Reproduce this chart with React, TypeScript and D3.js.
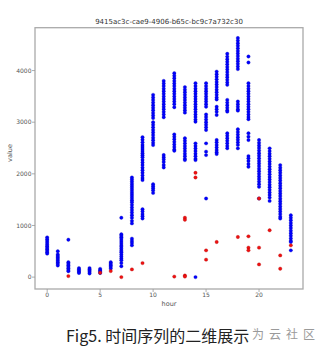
import React from "react";
import * as d3 from "d3";

const title = "9415ac3c-cae9-4906-b65c-bc9c7a732c30";
const xTicks = [0, 5, 10, 15, 20];
const yTicks = [0, 1000, 2000, 3000, 4000];

// blue series: values per hour (index = hour)
const blueValues: number[][] = [
  [770, 735, 700, 665, 630, 600, 570, 540, 510, 480, 455],
  [500, 440, 410, 380, 350, 320, 290, 260, 225],
  [725, 290, 260, 230, 200, 170, 140, 115],
  [175, 150, 125, 100, 80],
  [175, 150, 125, 100, 70],
  [160, 135, 110, 80],
  [290, 260, 230, 200, 165],
  [1150, 830, 800, 770, 740, 700, 660, 620, 590, 550, 510, 480, 440, 400, 360, 325, 272, 210],
  [1930, 1890, 1850, 1810, 1770, 1730, 1690, 1650, 1610, 1570, 1530, 1490, 1450, 1400, 1350, 1300, 1250, 1200, 1150, 1090, 1040, 745, 700, 660, 615],
  [2710, 2660, 2610, 2560, 2520, 2480, 2440, 2400, 2360, 2320, 2270, 2220, 2170, 2120, 2070, 2020, 1970, 1920, 1880, 1315, 1270, 1220, 1180, 1135],
  [3530, 3480, 3430, 3380, 3330, 3280, 3230, 3180, 3130, 3080, 3000, 2950, 2900, 2850, 2800, 2750, 2700, 2650, 2600, 2557, 1800, 1760, 1720, 1680, 1631],
  [3800, 3750, 3700, 3650, 3600, 3550, 3500, 3450, 3400, 3350, 3300, 3250, 3200, 3150, 3095, 2364, 2320, 2280, 2230, 2170, 2124],
  [3950, 3900, 3850, 3800, 3750, 3700, 3650, 3600, 3550, 3500, 3450, 3400, 3350, 3290, 2765, 2720, 2670, 2620, 2570, 2520, 2470, 2447],
  [3680, 3630, 3580, 3530, 3480, 3430, 3380, 3330, 3280, 3230, 3185, 2690, 2640, 2590, 2540, 2490, 2440, 2390, 2340, 2290, 2266],
  [3756, 3700, 3650, 3600, 3550, 3500, 3450, 3400, 3350, 3300, 3250, 3200, 3150, 3100, 3050, 3010, 2590, 2540, 2490, 2440, 2390, 2340, 2290, 2266, 0],
  [3756, 3700, 3650, 3600, 3550, 3500, 3450, 3400, 3350, 3300, 3150, 3100, 3050, 3000, 2950, 2900, 2849, 2590, 2430, 2363, 1522],
  [3980, 3930, 3880, 3830, 3780, 3730, 3680, 3630, 3580, 3530, 3480, 3440, 3300, 3250, 3200, 3140, 2655, 2610, 2560, 2510, 2460, 2420, 2383],
  [4325, 4270, 4220, 4170, 4120, 4070, 4020, 3970, 3920, 3870, 3820, 3770, 3723, 3432, 3380, 3330, 3280, 3230, 3204, 2785, 2740, 2690, 2640, 2590, 2540, 2494],
  [4630, 4580, 4530, 4480, 4430, 4380, 4330, 4280, 4230, 4180, 4130, 4080, 4028, 3400, 3350, 3300, 3250, 3224, 2863, 2810, 2760, 2710, 2660, 2610, 2560, 2494],
  [4272, 4156, 3756, 3700, 3650, 3600, 3550, 3500, 3450, 3400, 3350, 3300, 3250, 3200, 3150, 3100, 3057, 2785, 2720, 2655, 2344, 2300, 2250, 2190, 2136],
  [2655, 2600, 2550, 2500, 2450, 2400, 2350, 2300, 2250, 2200, 2150, 2100, 2050, 2000, 1950, 1900, 1850, 1800, 1748, 1522],
  [2494, 2440, 2390, 2340, 2290, 2240, 2190, 2140, 2090, 2040, 1990, 1940, 1890, 1840, 1790, 1740, 1690, 1640, 1590, 1540, 1476],
  [2169, 2120, 2070, 2020, 1970, 1920, 1870, 1820, 1770, 1720, 1670, 1620, 1570, 1520, 1470, 1420, 1370, 1320, 1270, 1220, 1170, 1134],
  [1198, 1150, 1100, 1050, 1000, 950, 900, 850, 800, 750, 700, 680, 518],
];

// red series: anomaly values per hour
const redValues: number[][] = [
  [], [], [20], [], [], [85], [117], [0], [150], [272], [], [],
  [10], [1150, 1110, 30, 10], [2020, 1930], [518, 338], [680], [],
  [777], [790, 571, 518], [1522, 571, 246], [907], [421, 163], [615],
];

const W = 328, H = 355;
const L = 35, R = 303, T = 27.7, B = 289;

export default function App() {
  const x = d3.scaleLinear().domain([-1.15, 24.15]).range([L, R]);
  const y = d3.scaleLinear().domain([-230, 4830]).range([B, T]);
  const blue = blueValues.flatMap((vals, h) => vals.map((v) => ({ h, v })));
  const red = redValues.flatMap((vals, h) => vals.map((v) => ({ h, v })));
  const tickColor = "#555";
  return (
    <svg width={W} height={H} style={{ position: "absolute", left: 0, top: 0, background: "#fff" }}
      fontFamily="DejaVu Sans, sans-serif">
      <text x={169} y={23.5} fontSize={7} textAnchor="middle" fill="#333">{title}</text>
      {blue.map((d, i) => (
        <circle key={"b" + i} cx={x(d.h)} cy={y(d.v)} r={1.7} fill="#0000ff" stroke="#0000b0" strokeWidth={0.3} />
      ))}
      {red.map((d, i) => (
        <circle key={"r" + i} cx={x(d.h)} cy={y(d.v)} r={1.7} fill="#ee1111" stroke="#aa0000" strokeWidth={0.3} />
      ))}
      <rect x={L} y={T} width={R - L} height={B - T} fill="none" stroke="#aaa" strokeWidth={1.3} />
      {xTicks.map((t) => (
        <g key={"x" + t}>
          <line x1={x(t)} x2={x(t)} y1={B} y2={B + 3} stroke="#999" strokeWidth={0.8} />
          <text x={x(t)} y={296.5} fontSize={6} textAnchor="middle" fill={tickColor}>{t}</text>
        </g>
      ))}
      {yTicks.map((t) => (
        <g key={"y" + t}>
          <line x1={L - 3} x2={L} y1={y(t)} y2={y(t)} stroke="#999" strokeWidth={0.8} />
          <text x={31.5} y={y(t) + 2.1} fontSize={6} textAnchor="end" fill={tickColor}>{t}</text>
        </g>
      ))}
      <text x={169} y={305.5} fontSize={6.5} textAnchor="middle" fill={tickColor}>hour</text>
      <text transform={`translate(11.5,153) rotate(-90)`} fontSize={6.5} textAnchor="middle" fill={tickColor}>value</text>
      <text x={66} y={341.5} fontSize={16} fill="#222" fontFamily="Noto Sans CJK SC, Noto Sans, sans-serif">Fig5. 时间序列的二维展示</text>
      <text x={252} y={339} fontSize={12} fill="#9a9a9a" letterSpacing={5} fontFamily="Noto Sans CJK SC, sans-serif">为云社区</text>
    </svg>
  );
}
